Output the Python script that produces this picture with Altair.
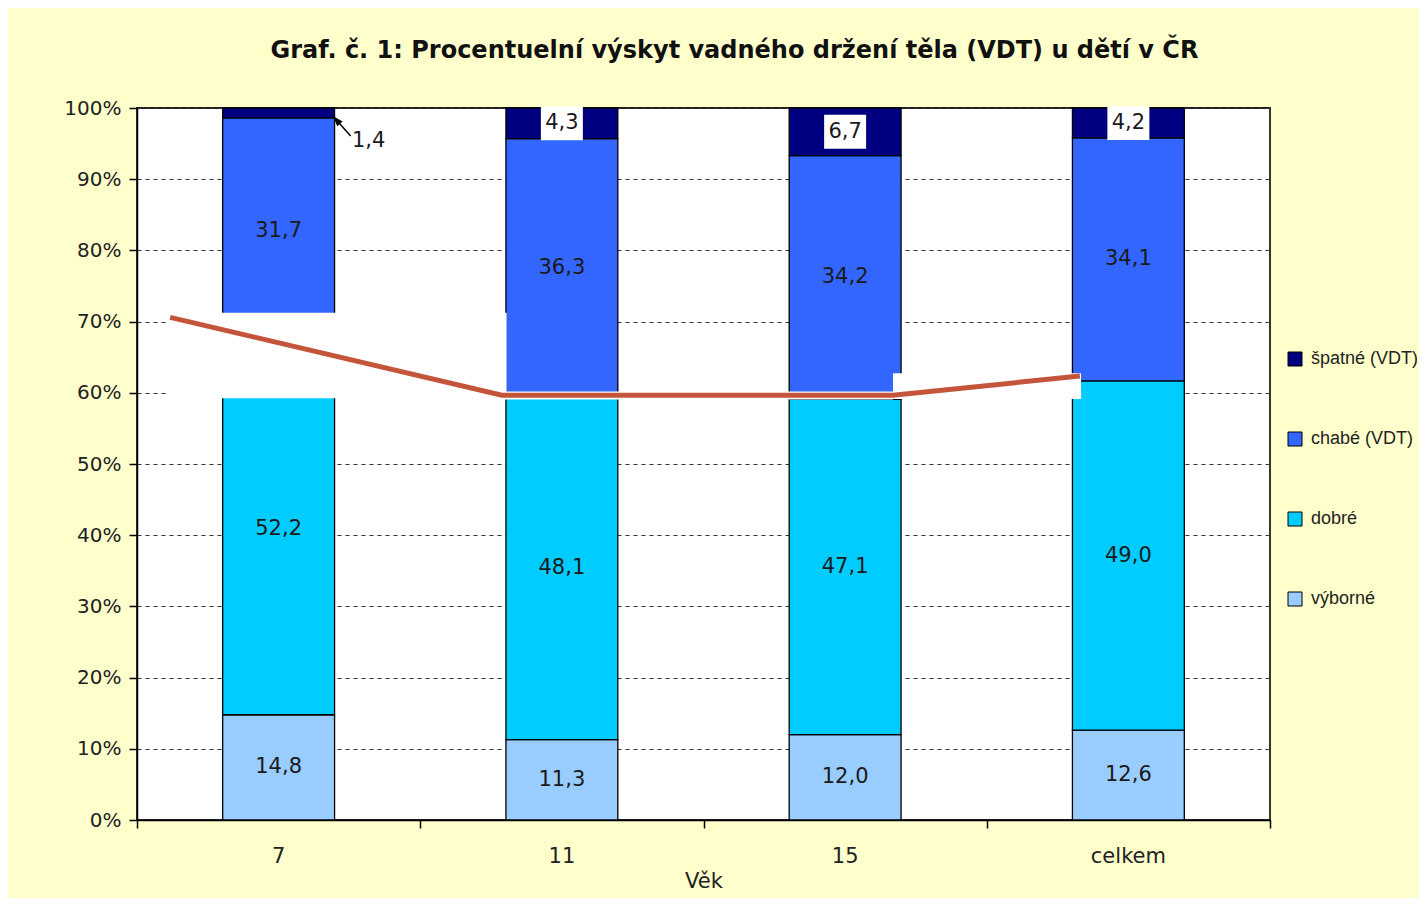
import altair as alt
import pandas as pd

# ---- chart data ----
ages = ["7", "11", "15", "celkem"]
series = ["výborné", "dobré", "chabé (VDT)", "špatné (VDT)"]  # bottom -> top
vyborne = [14.8, 11.3, 12.0, 12.6]
dobre = [52.2, 48.1, 47.1, 49.0]
chabe = [31.7, 36.3, 34.2, 34.1]
spatne = [1.4, 4.3, 6.7, 4.2]
colors = ["#99CCFF", "#00CCFF", "#3366FF", "#000080"]
y_ticks = [0, 0.1, 0.2, 0.3, 0.4, 0.5, 0.6, 0.7, 0.8, 0.9, 1.0]
x_slot_ticks = [0, 1, 2, 3, 4]

# hand-drawn overlay on the picture (x in category slots 0..4, y as share 0..1)
trend_x = [0.117, 1.288, 2.669, 3.329]
trend_y = [0.706, 0.5965, 0.5965, 0.6236]
mask_x0 = [0.105, 1.28, 2.669]
mask_x1 = [1.305, 2.669, 3.333]
mask_y0 = [0.5923, 0.5906, 0.5913]
mask_y1 = [0.7125, 0.6018, 0.6274]

FONT = "DejaVu Sans"
LFONT = "Liberation Sans"
TXT = "#1a1a1a"

rows = []
for si, (s, vals) in enumerate(zip(series, [vyborne, dobre, chabe, spatne])):
    for a, v in zip(ages, vals):
        rows.append({"age": a, "cat": s, "value": v, "ord": si})
df = pd.DataFrame(rows)

base = alt.Chart(df).transform_stack(
    stack="value",
    groupby=["age"],
    sort=[alt.SortField("ord", order="ascending")],
    as_=["y0", "y1"],
    offset="normalize",
).transform_calculate(
    mid="(datum.y0 + datum.y1) / 2",
    label="replace(format(datum.value, '.1f'), '.', ',')",
)

ysc = alt.Scale(domain=[0, 1], nice=False, zero=True)
yaxis = alt.Axis(
    title=None,
    format=".0%",
    values=y_ticks,
    labelFontSize=20,
    labelFont=FONT,
    labelColor="#222",
    labelPadding=8,
    tickSize=8,
    tickWidth=1.5,
    tickColor="black",
    domainColor="black",
    domainWidth=1.5,
    grid=True,
    gridColor="#333",
    gridDash=[4, 4],
    gridWidth=1,
)

bars = base.mark_bar(stroke="black", strokeWidth=1.3).encode(
    x=alt.X(
        "age:N",
        sort=ages,
        scale=alt.Scale(paddingInner=0.605, paddingOuter=0.3025),
        axis=alt.Axis(
            orient="bottom",
            title="Věk",
            labelAngle=0,
            labelFontSize=21,
            labelFont=FONT,
            labelColor="#222",
            labelPadding=17,
            tickSize=8,
            tickOpacity=0,
            domainColor="black",
            domainWidth=1.5,
            titleFont=FONT,
            titleFontSize=21,
            titleFontWeight="normal",
            titleColor="#222",
            titlePadding=4,
            grid=False,
        ),
    ),
    y=alt.Y("y0:Q", scale=ysc, axis=yaxis),
    y2="y1:Q",
    color=alt.Color(
        "cat:N",
        scale=alt.Scale(domain=series[::-1], range=colors[::-1]),
        legend=alt.Legend(
            title=None,
            orient="none",
            legendX=1149,
            legendY=242,
            symbolType="square",
            symbolSize=196,
            symbolStrokeColor="black",
            symbolStrokeWidth=1,
            labelFontSize=18,
            labelFont=LFONT,
            labelColor="#222",
            labelOffset=7,
            labelLimit=400,
            rowPadding=62,
            padding=0,
        ),
    ),
)

# overlay: white patches and the red hand-drawn line (+ category separator ticks)
xq = alt.Scale(domain=[0, 4], nice=False, zero=False)
mask_df = pd.DataFrame({"x0": mask_x0, "x1": mask_x1, "y0": mask_y0, "y1": mask_y1})
trend_df = pd.DataFrame({"x": trend_x, "y": trend_y, "i": list(range(len(trend_x)))})

masks = alt.Chart(mask_df).mark_rect(color="white", opacity=1).encode(
    x=alt.X(
        "x0:Q",
        scale=xq,
        axis=alt.Axis(
            orient="bottom",
            values=x_slot_ticks,
            labels=False,
            title=None,
            domain=False,
            grid=False,
            tickSize=8,
            tickWidth=1.5,
            tickColor="black",
        ),
    ),
    x2="x1:Q",
    y=alt.Y("y0:Q", scale=ysc, axis=yaxis),
    y2="y1:Q",
)
trend = alt.Chart(trend_df).mark_line(color="#C4553B", strokeWidth=5).encode(
    x=alt.X("x:Q", scale=xq),
    y=alt.Y("y:Q", scale=ysc, axis=yaxis),
    order="i:O",
)
overlay = alt.layer(masks, trend)

# labels
BOX = "M-1.235,-1L1.235,-1L1.235,1L-1.235,1Z"
ARROW = "M0,0L0.161,0.392L0.371,0.206Z M0,0L0.89,1"
xl = alt.X("age:N", sort=ages, axis=None)

boxes = base.transform_filter("datum.ord == 3 && datum.age != '7'").mark_point(
    shape=BOX, filled=True, color="white", size=1156, opacity=1, strokeWidth=0
).encode(x=xl, y=alt.Y("mid:Q", scale=ysc, axis=yaxis))

texts = base.transform_filter("!(datum.ord == 3 && datum.age == '7')").mark_text(
    fontSize=21, font=FONT, color=TXT, baseline="middle"
).encode(x=xl, y=alt.Y("mid:Q", scale=ysc, axis=yaxis), text="label:N")

out_text = base.transform_filter("datum.ord == 3 && datum.age == '7'").mark_text(
    fontSize=21, font=FONT, color=TXT, baseline="middle", dx=90, dy=28
).encode(x=xl, y=alt.Y("mid:Q", scale=ysc, axis=yaxis), text="label:N")

leader = base.transform_filter("datum.ord == 3 && datum.age == '7'").mark_point(
    shape=ARROW, filled=True, fill="black", stroke="black", strokeWidth=1.5,
    size=1296, opacity=1, xOffset=56
).encode(x=xl, y=alt.Y("y0:Q", scale=ysc, axis=yaxis))

labels = alt.layer(boxes, texts, out_text, leader)

chart = (
    alt.layer(bars, overlay, labels)
    .resolve_scale(x="independent")
    .properties(
        width=1133,
        height=712,
        background="#FFFFCC",
        padding={"left": 129, "top": 100, "right": 149, "bottom": 78},
        autosize=alt.AutoSizeParams(type="none"),
        title=alt.TitleParams(
            text="Graf. č. 1: Procentuelní výskyt vadného držení těla (VDT) u dětí v ČR",
            font=FONT,
            fontSize=24,
            fontWeight="bold",
            color="#111",
            anchor="middle",
            frame="group",
            dx=31,
            offset=16,
            baseline="alphabetic",
        ),
    )
    .configure_view(fill="white", stroke="#222", strokeWidth=1.8)
)

chart.save("out.html", embed_options={"renderer": "svg", "actions": False})
